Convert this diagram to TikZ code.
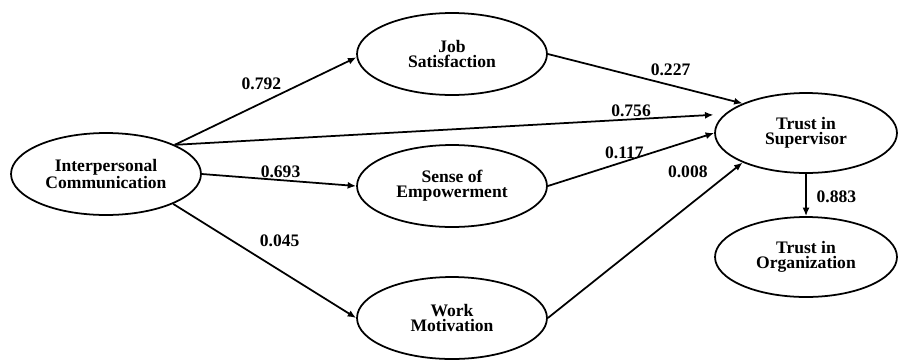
\documentclass[tikz,border=0pt]{standalone}
\usepackage{fontspec}
\setmainfont{Liberation Serif}
\usetikzlibrary{arrows.meta,shapes.geometric}
\tikzset{
  arr/.style={line width=1pt, -{Latex[length=1.7mm, width=1.4mm]}},
  lbl/.style={font=\bfseries\fontsize{10}{10}\selectfont, inner sep=1pt},
  cons/.style={draw, ellipse, line width=1pt, minimum width=3.8cm, minimum height=1.64cm,
    inner sep=0pt, align=center, font=\bfseries\fontsize{10}{8.5}\selectfont},
}
\def\xL{106}
\def\xM{452}
\def\xR{806}

\begin{document}
\begin{tikzpicture}[x=0.02cm, y=-0.02cm]
\useasboundingbox (0,0) rectangle (898,359);

\node[cons] (ic) at (\xL,174) {Interpersonal\\Communication};
\node[cons] (js) at (\xM,54) {Job\\Satisfaction};
\node[cons] (se) at (\xM,186) {Sense of\\Empowerment};
\node[cons] (wm) at (\xM,318) {Work\\Motivation};
\node[cons, minimum width=3.64cm, minimum height=1.6cm] (ts) at (\xR,133) {Trust in\\Supervisor};
\node[cons, minimum width=3.64cm, minimum height=1.6cm] (to) at (\xR,257) {Trust in\\Organization};

\draw[arr] (ic.23) -- (js.182) node[pos=0.6, lbl, anchor=south east] {0.792};
\draw[arr, shorten >=0.22cm] (ic.23) -- (ts.167) node[pos=0.83, lbl, anchor=south] {0.756};
\draw[arr] (ic.east) -- (se.west) node[pos=0.51, lbl, anchor=south] {0.693};
\draw[arr] (ic.-24) -- (wm.west) node[pos=0.46, lbl, anchor=south west, yshift=0.14cm] {0.045};

\draw[arr] (js.east) -- (ts.155.6) node[pos=0.63, lbl, anchor=south, yshift=0.14cm] {0.227};
\draw[arr] (se.east) -- (ts.west) node[pos=0.46, lbl, anchor=south] {0.117};
\draw[arr] (wm.east) -- (ts.205) node[pos=0.885, lbl, anchor=south east, xshift=-0.2cm] {0.008};
\draw[arr] (ts.south) -- (to.north) node[pos=0.55, lbl, anchor=west, xshift=0.16cm] {0.883};

\end{tikzpicture}
\end{document}
